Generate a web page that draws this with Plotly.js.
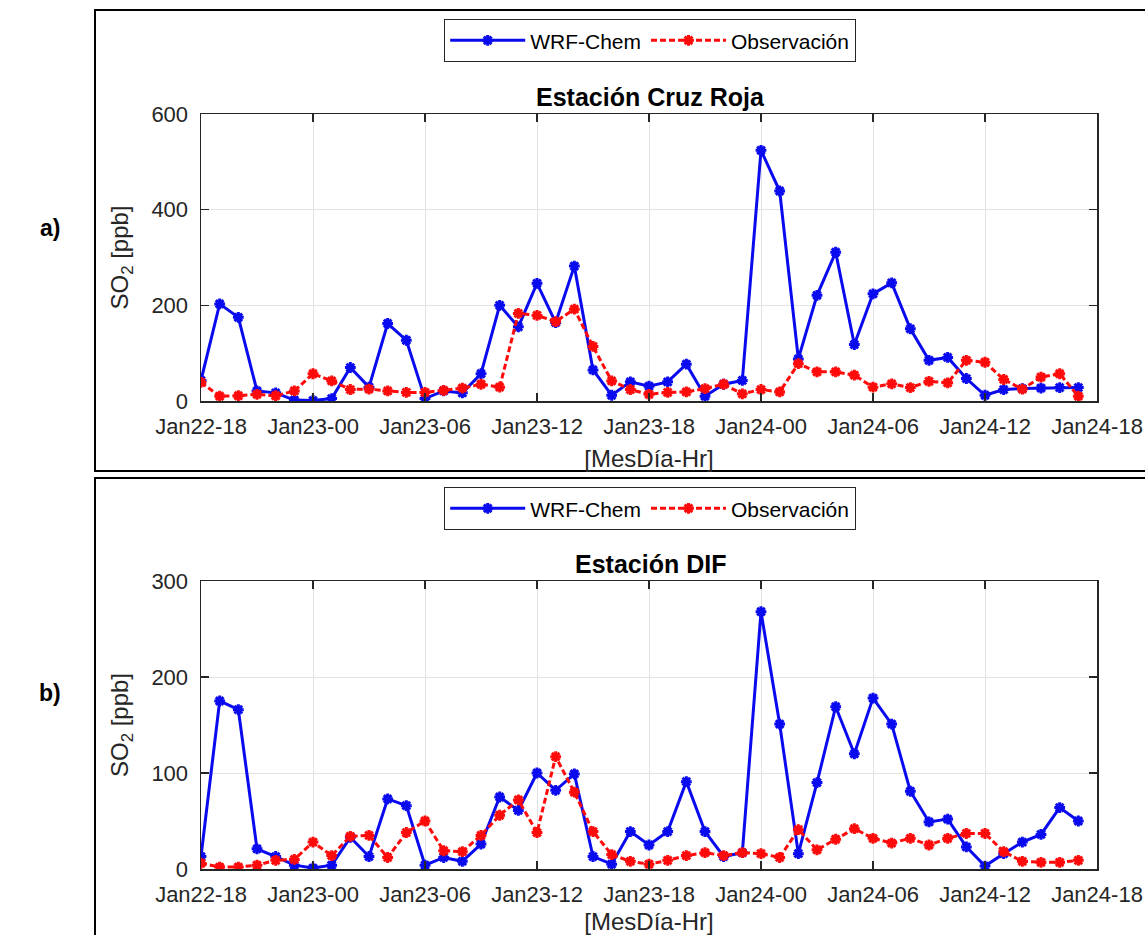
<!DOCTYPE html>
<html>
<head>
<meta charset="utf-8">
<script src="https://cdn.plot.ly/plotly-3.0.1.min.js"></script>
<style>
  html, body { margin: 0; padding: 0; background: #ffffff; }
  #chart { width: 1145px; height: 935px; }
</style>
</head>
<body>
<div id="chart"></div>
<script>
// Hour index from Jan22-18 (hourly data, 48 points)
const hours = Array.from({length: 48}, (_, i) => i);

const tickHours  = [0, 6, 12, 18, 24, 30, 36, 42, 48];
const tickLabels = ['Jan22-18', 'Jan23-00', 'Jan23-06', 'Jan23-12', 'Jan23-18',
                    'Jan24-00', 'Jan24-06', 'Jan24-12', 'Jan24-18'];

// a) Estación Cruz Roja
const wrfCruz = [43, 203, 175, 21, 17, 2, 1, 5, 70, 29, 162, 127,
                 5, 21, 17, 57, 200, 155, 246, 164, 282, 65, 12, 40,
                 31, 40, 77, 10, 35, 43, 524, 439, 88, 221, 311, 118,
                 224, 247, 151, 85, 91, 47, 12, 24, 26, 27, 28, 28];
const obsCruz = [39, 10, 11, 14, 11, 21, 57, 42, 24, 25, 21, 18,
                 18, 22, 27, 35, 29, 183, 179, 166, 192, 114, 42, 24,
                 14, 18, 19, 26, 35, 15, 24, 19, 78, 61, 61, 54,
                 29, 36, 28, 41, 38, 85, 81, 45, 25, 50, 57, 10];

// b) Estación DIF
const wrfDIF = [13, 175, 166, 21, 13, 4, 1, 4, 33, 13, 73, 66,
                4, 12, 8, 26, 75, 61, 100, 82, 99, 13, 5, 39,
                25, 39, 91, 39, 13, 17, 268, 151, 16, 90, 169, 120,
                178, 151, 81, 49, 52, 23, 3, 16, 28, 36, 64, 50];
const obsDIF = [6, 2, 2, 4, 9, 10, 28, 14, 34, 35, 12, 38,
                50, 19, 18, 35, 56, 72, 38, 117, 80, 39, 15, 8,
                5, 9, 14, 17, 14, 17, 16, 12, 41, 20, 31, 42,
                32, 27, 32, 25, 32, 37, 37, 18, 8, 7, 7, 9];

const seriesNames = ['WRF-Chem', 'Observación'];
const panelTitles = ['Estación Cruz Roja', 'Estación DIF'];
const panelLetters = ['a)', 'b)'];

const W = 1145, H = 935;
const px = v => v / W;
const py = v => 1 - v / H;

const FONT = 'Liberation Sans, Arial, Helvetica, sans-serif';
const AX = '#262626';
const BLUE = '#0a0aee';
const RED = '#ff0a0a';

function wrfTrace(y, xa, ya, leg) {
  return {
    x: hours, y: y, xaxis: xa, yaxis: ya, legend: leg,
    name: seriesNames[0], type: 'scatter', mode: 'lines+markers',
    line: {color: BLUE, width: 3},
    marker: {symbol: 'asterisk-open', size: 9, color: BLUE, line: {color: BLUE, width: 3}}
  };
}
function obsTrace(y, xa, ya, leg) {
  return {
    x: hours, y: y, xaxis: xa, yaxis: ya, legend: leg,
    name: seriesNames[1], type: 'scatter', mode: 'lines+markers',
    line: {color: RED, width: 3, dash: '6px,3px'},
    marker: {symbol: 'asterisk-open', size: 9, color: RED, line: {color: RED, width: 3}}
  };
}

const data = [
  wrfTrace(wrfCruz, 'x', 'y', 'legend'),
  obsTrace(obsCruz, 'x', 'y', 'legend'),
  wrfTrace(wrfDIF, 'x2', 'y2', 'legend2'),
  obsTrace(obsDIF, 'x2', 'y2', 'legend2')
];

function xAxis(anchor) {
  return {
    domain: [px(201), px(1097)], anchor: anchor,
    range: [0, 48], tickmode: 'array', tickvals: tickHours, ticktext: tickLabels,
    ticks: 'inside', ticklen: 8, tickwidth: 1.2, tickcolor: AX,
    showline: true, linecolor: AX, linewidth: 1.5, mirror: 'ticks',
    showgrid: true, gridcolor: '#e3e3e3', gridwidth: 1, zeroline: false,
    tickfont: {family: FONT, size: 22, color: AX},
    ticklabelstandoff: 5,
    title: {text: '[MesDía-Hr]', font: {family: FONT, size: 24, color: AX}, standoff: 12},
    automargin: false
  };
}
function yAxis(anchor, dom, max, dt) {
  return {
    domain: dom, anchor: anchor,
    range: [0, max], dtick: dt, tick0: 0,
    ticks: 'inside', ticklen: 8, tickwidth: 1.2, tickcolor: AX,
    showline: true, linecolor: AX, linewidth: 1.5, mirror: 'ticks',
    showgrid: true, gridcolor: '#e3e3e3', gridwidth: 1, zeroline: false,
    tickfont: {family: FONT, size: 22, color: AX},
    ticklabelstandoff: 7,
    title: {text: 'SO<sub>2</sub> [ppb]', font: {family: FONT, size: 24, color: AX}, standoff: 16},
    automargin: false
  };
}

function legendBox(yTop) {
  return {
    x: px(650), xanchor: 'center', y: py(yTop), yanchor: 'top',
    orientation: 'h', bgcolor: '#ffffff', bordercolor: AX, borderwidth: 1.2,
    font: {family: FONT, size: 21, color: '#000000'},
    itemwidth: 75, tracegroupgap: 0, itemclick: false
  };
}

const layout = {
  width: W, height: H,
  margin: {l: 0, r: 0, t: 0, b: 0},
  paper_bgcolor: '#ffffff', plot_bgcolor: '#ffffff',
  showlegend: true,
  xaxis: xAxis('y'),
  yaxis: yAxis('x', [py(401), py(114)], 600, 200),
  xaxis2: xAxis('y2'),
  yaxis2: yAxis('x2', [py(869), py(581)], 300, 100),
  legend: legendBox(19),
  legend2: legendBox(487),
  shapes: [
    {type: 'rect', xref: 'paper', yref: 'paper', x0: px(95), x1: 1.02, y0: py(471), y1: py(10),
     line: {color: '#000000', width: 2}, fillcolor: 'rgba(0,0,0,0)', layer: 'below'},
    {type: 'rect', xref: 'paper', yref: 'paper', x0: px(95), x1: 1.02, y0: -0.02, y1: py(478),
     line: {color: '#000000', width: 2}, fillcolor: 'rgba(0,0,0,0)', layer: 'below'}
  ],
  annotations: [
    {xref: 'paper', yref: 'paper', x: px(650), y: py(97), xanchor: 'center', yanchor: 'middle',
     text: '<b>' + panelTitles[0] + '</b>', showarrow: false, font: {family: FONT, size: 25, color: '#000000'}},
    {xref: 'paper', yref: 'paper', x: px(650), y: py(564), xanchor: 'center', yanchor: 'middle',
     text: '<b>' + panelTitles[1] + '</b>', showarrow: false, font: {family: FONT, size: 25, color: '#000000'}},
    {xref: 'paper', yref: 'paper', x: px(50), y: py(228), xanchor: 'center', yanchor: 'middle',
     text: '<b>' + panelLetters[0] + '</b>', showarrow: false, font: {family: FONT, size: 23, color: '#000000'}},
    {xref: 'paper', yref: 'paper', x: px(50), y: py(693), xanchor: 'center', yanchor: 'middle',
     text: '<b>' + panelLetters[1] + '</b>', showarrow: false, font: {family: FONT, size: 23, color: '#000000'}}
  ]
};

Plotly.newPlot('chart', data, layout, {displayModeBar: false, staticPlot: true});
</script>
</body>
</html>
